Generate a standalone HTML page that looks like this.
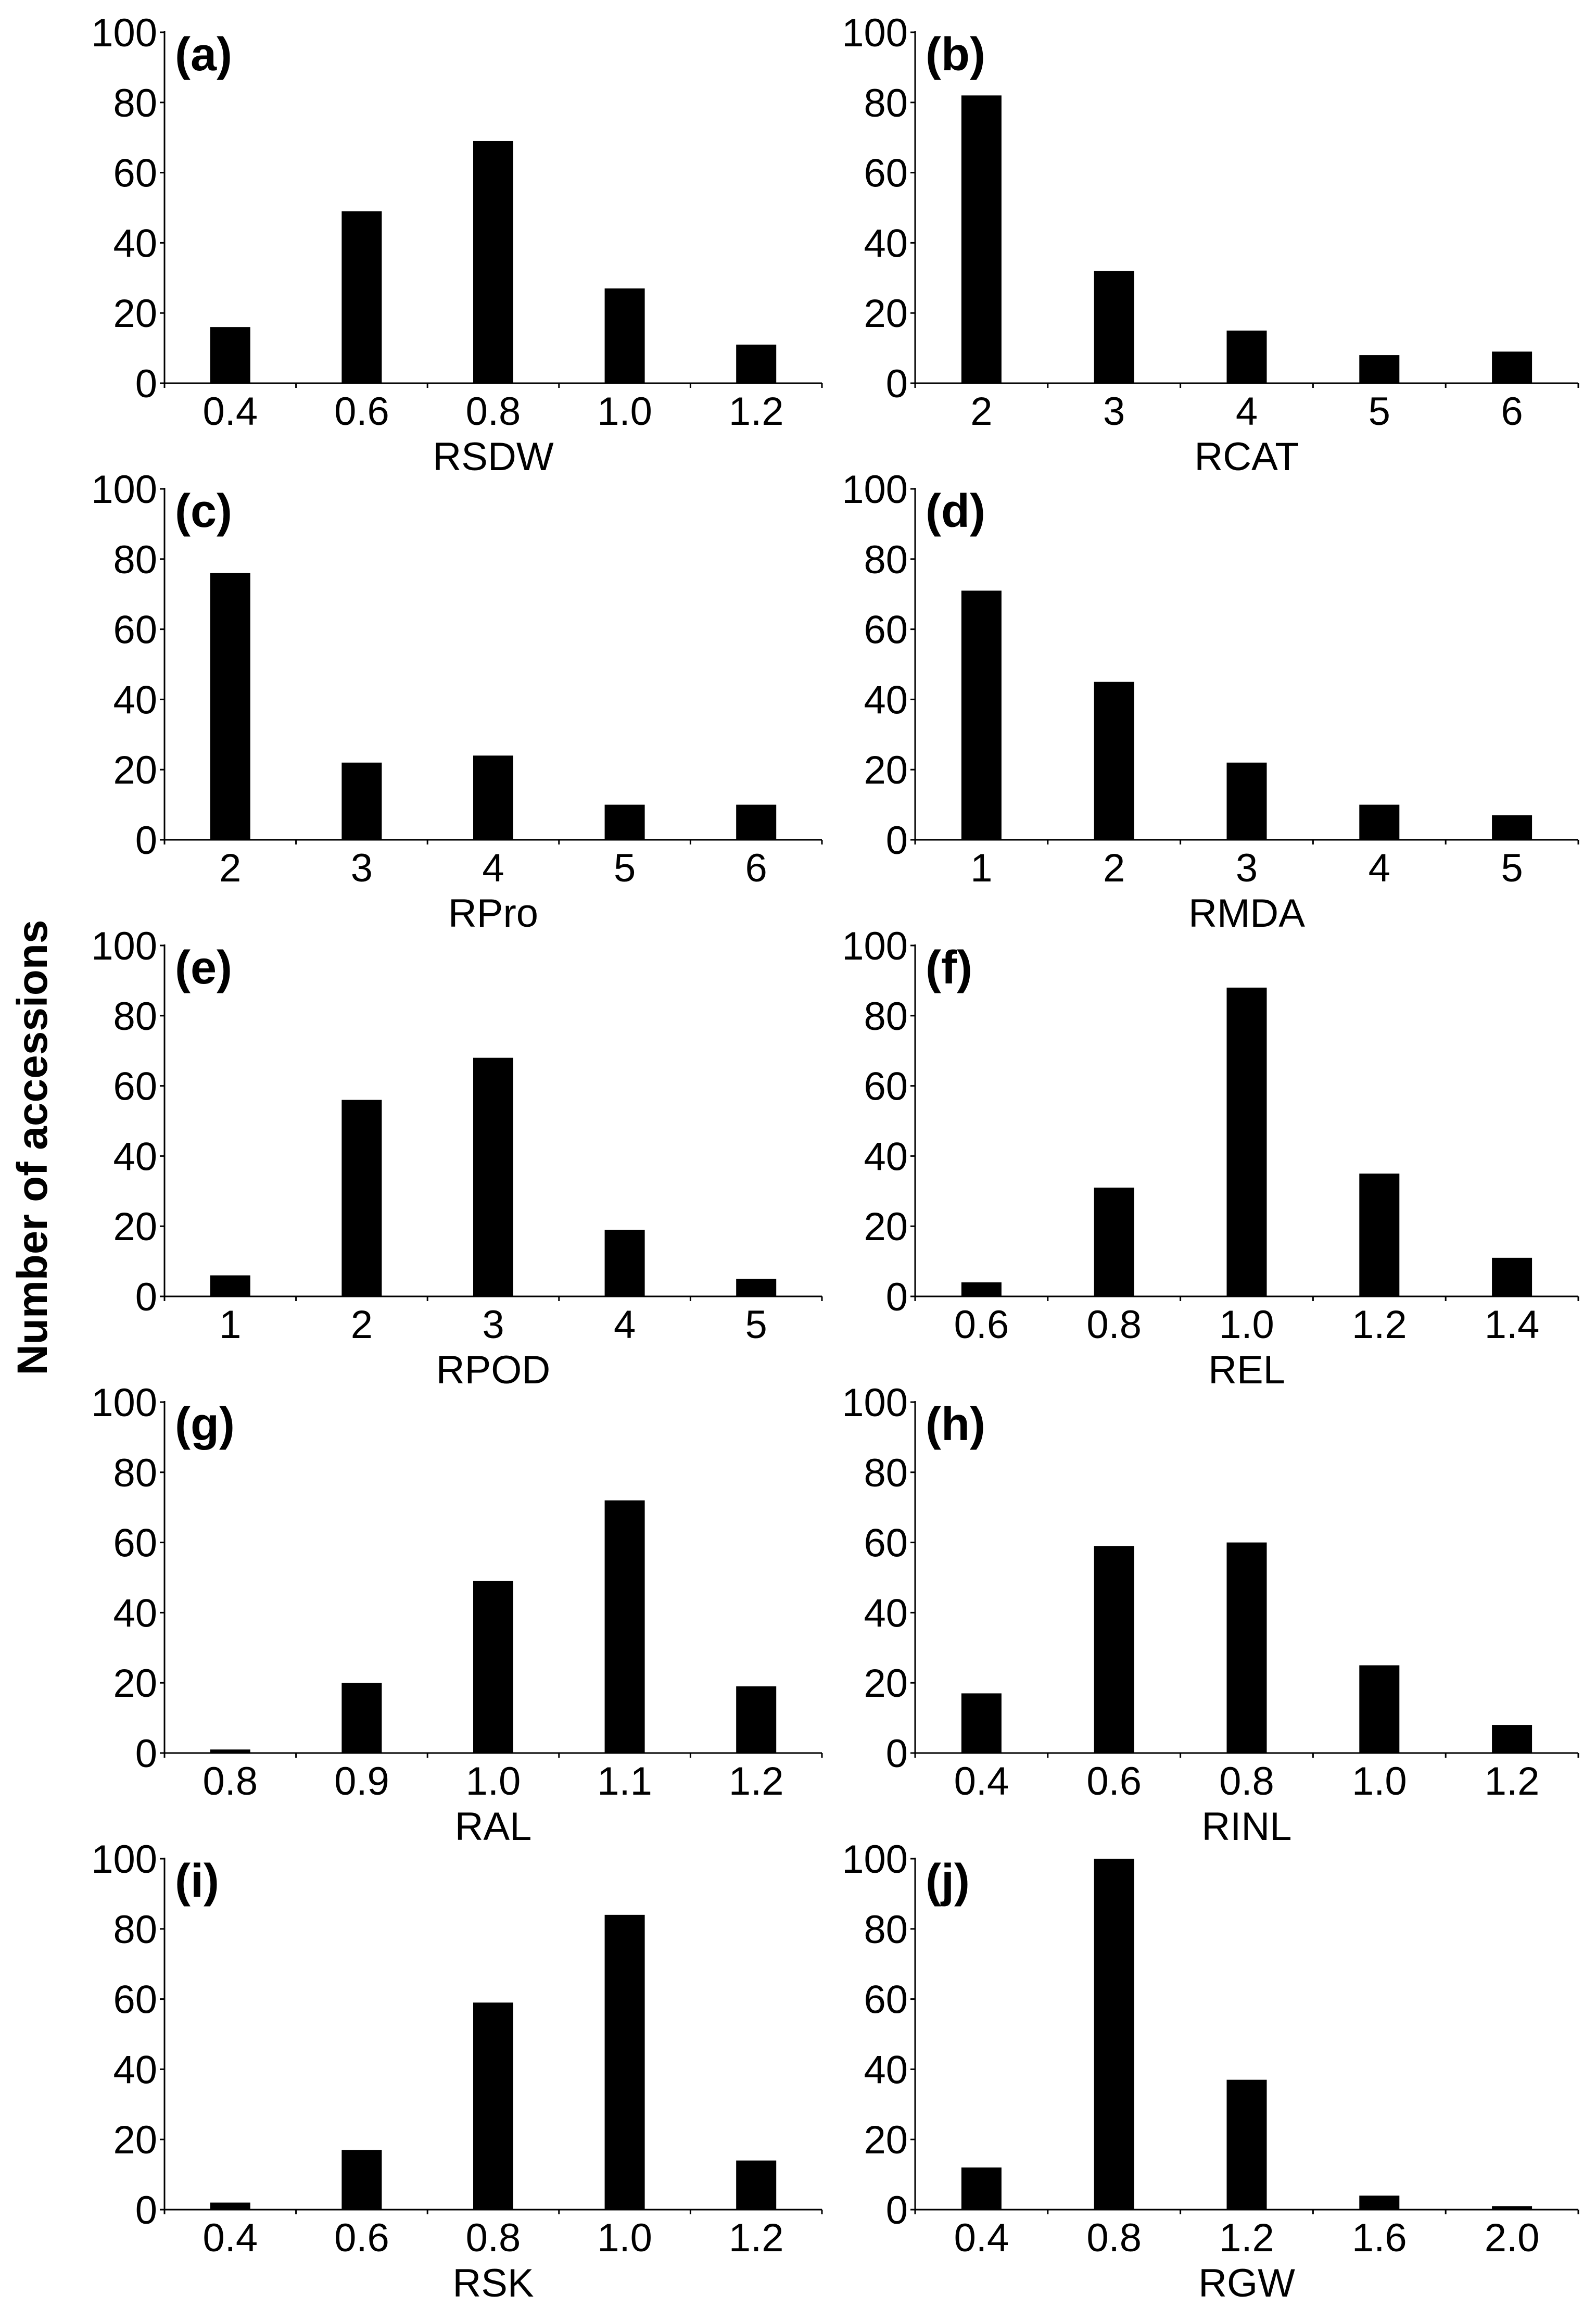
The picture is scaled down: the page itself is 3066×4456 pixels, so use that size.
<!DOCTYPE html>
<html><head><meta charset="utf-8">
<style>
html,body{margin:0;padding:0;background:#fff;}
svg{display:block;font-family:"Liberation Sans",Arial,sans-serif;}
</style></head>
<body>
<svg id="chart" width="3066" height="4456" viewBox="0 0 3066 4456" xmlns="http://www.w3.org/2000/svg">
<rect width="3066" height="4456" fill="#fff"/>
<text x="0" y="0" transform="translate(90,2204) rotate(-90)" text-anchor="middle" font-weight="bold" font-size="82">Number of accessions</text>
</svg>
<script>
const panelLabels = ["(a)","(b)","(c)","(d)","(e)","(f)","(g)","(h)","(i)","(j)"];
const axisTitles = ["RSDW","RCAT","RPro","RMDA","RPOD","REL","RAL","RINL","RSK","RGW"];
const catsA = ["0.4","0.6","0.8","1.0","1.2"];
const catsB = ["2","3","4","5","6"];
const catsC = ["2","3","4","5","6"];
const catsD = ["1","2","3","4","5"];
const catsE = ["1","2","3","4","5"];
const catsF = ["0.6","0.8","1.0","1.2","1.4"];
const catsG = ["0.8","0.9","1.0","1.1","1.2"];
const catsH = ["0.4","0.6","0.8","1.0","1.2"];
const catsI = ["0.4","0.6","0.8","1.0","1.2"];
const catsJ = ["0.4","0.8","1.2","1.6","2.0"];
const valsA = [16,49,69,27,11];
const valsB = [82,32,15,8,9];
const valsC = [76,22,24,10,10];
const valsD = [71,45,22,10,7];
const valsE = [6,56,68,19,5];
const valsF = [4,31,88,35,11];
const valsG = [1,20,49,72,19];
const valsH = [17,59,60,25,8];
const valsI = [2,17,59,84,14];
const valsJ = [12,100,37,4,1];
const yTicks = [0,20,40,60,80,100];
const yMax = 100;

const allCats = [catsA,catsB,catsC,catsD,catsE,catsF,catsG,catsH,catsI,catsJ];
const allVals = [valsA,valsB,valsC,valsD,valsE,valsF,valsG,valsH,valsI,valsJ];

const svg = document.getElementById('chart');
const NS = 'http://www.w3.org/2000/svg';
function mk(tag, attrs){ const e=document.createElementNS(NS,tag); for(const k in attrs) e.setAttribute(k,attrs[k]); svg.appendChild(e); return e; }

const colLeft = [316,1758], colRight=[1579,3032];
const zero0 = 736, rowStep = 877, plotH = 674, barW = 77;

for(let p=0;p<10;p++){
  const col=p%2, row=Math.floor(p/2);
  const x0=colLeft[col], x1=colRight[col];
  const yz=zero0+row*rowStep;
  const cats=allCats[p], vals=allVals[p];
  const band=(x1-x0)/cats.length;
  const xS = i => x0 + band*(i+0.5);
  const yS = v => yz - v/yMax*plotH;

  const ya=mk('line',{x1:x0,y1:yS(yMax)-2,x2:x0,y2:yz+1,stroke:'#000','stroke-width':3});
  
  
  const xa=mk('line',{x1:x0-1,y1:yz,x2:x1,y2:yz,stroke:'#000','stroke-width':3});
  
  

  yTicks.forEach(t=>{
    const tk=mk('line',{x1:x0-9,y1:yS(t),x2:x0,y2:yS(t),stroke:'#000','stroke-width':3});
    
    
    const tl=mk('text',{x:x0-14,y:yS(t)+27,'text-anchor':'end','font-size':76});
    
    
    tl.textContent=t;
  });
  for(let i=0;i<=cats.length;i++){
    const tk=mk('line',{x1:x0+band*i,y1:yz,x2:x0+band*i,y2:yz+9,stroke:'#000','stroke-width':3});
    
    
  }
  cats.forEach((c,i)=>{
    const r=mk('rect',{x:xS(i)-barW/2,y:yS(vals[i]),width:barW,height:yz-yS(vals[i]),fill:'#000'});
    
    
    const tl=mk('text',{x:xS(i),y:yz+80,'text-anchor':'middle','font-size':76});
    
    
    tl.textContent=c;
  });
  const at=mk('text',{x:(x0+x1)/2,y:yz+167,'text-anchor':'middle','font-size':76});
  
  
  at.textContent=axisTitles[p];
  const pl=mk('text',{x:x0+20,y:yS(yMax)+73,'font-size':90,'font-weight':'bold'});
  
  
  pl.textContent=panelLabels[p];
}
</script>
</body></html>
